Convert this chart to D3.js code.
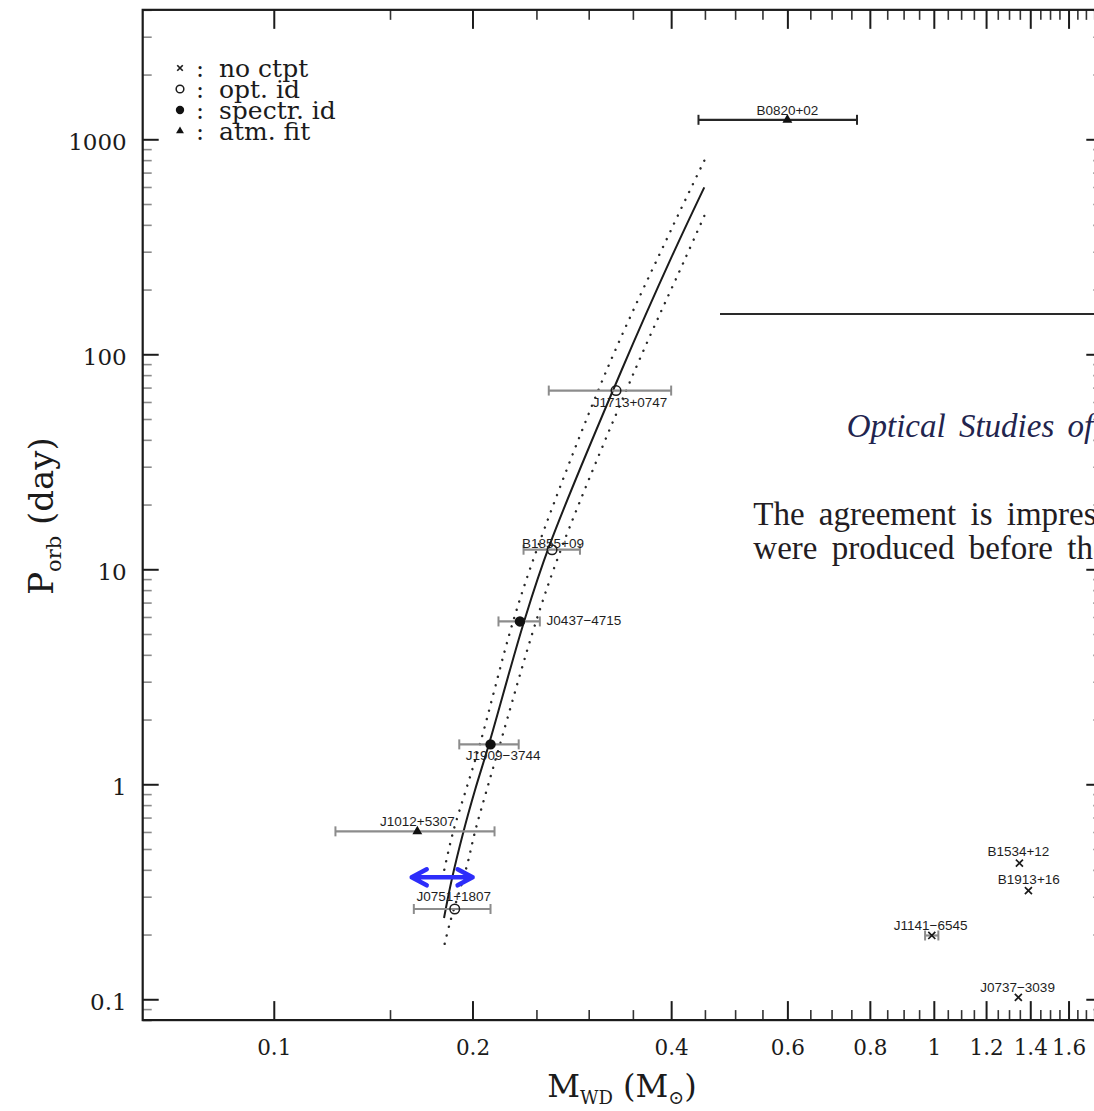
<!DOCTYPE html>
<html>
<head>
<meta charset="utf-8">
<script src="https://cdn.jsdelivr.net/npm/d3@7"></script>
<style>
  html, body { margin: 0; padding: 0; background: #ffffff; }
  svg { display: block; }
</style>
</head>
<body>
<svg id="chart" width="1094" height="1111"></svg>
<script>
// ---- Binary pulsars: white-dwarf (companion) mass vs orbital period ----
const pulsarNames     = ["B0820+02", "J1713+0747", "B1855+09", "J0437−4715", "J1909−3744",
                         "J1012+5307", "J0751+1807", "B1534+12", "B1913+16", "J1141−6545", "J0737−3039"];
const companionMass   = [0.60, 0.330, 0.264, 0.236, 0.213, 0.165, 0.188, 1.348, 1.391, 0.993, 1.343];
const massLow         = [0.44, 0.261, 0.239, 0.219, 0.191, 0.124, 0.163, null, null, 0.970, null];
const massHigh        = [0.765, 0.400, 0.291, 0.253, 0.235, 0.216, 0.213, null, null, 1.016, null];
const orbitalPeriod   = [1232, 67.8, 12.33, 5.72, 1.533, 0.604, 0.263, 0.43, 0.32, 0.198, 0.102];
// "none" = no counterpart, "opt" = optical id, "spec" = spectroscopic id, "atm" = atmosphere fit
const counterpartType = ["atm", "opt", "opt", "spec", "spec", "atm", "opt", "none", "none", "none", "none"];

// Core-mass / orbital-period relation (solid) and its spread (dotted)
const relationMass     = [0.449, 0.4008, 0.3366, 0.2612, 0.2394, 0.2119, 0.2018, 0.1938, 0.1860, 0.1811];
const relationPeriod   = [597.9, 284.4, 84.5, 12.74, 5.705, 1.539, 0.941, 0.602, 0.359, 0.2388];
const upperBandMass    = [0.449, 0.402, 0.3195, 0.2513, 0.2304, 0.2053, 0.1955, 0.1870, 0.1817, 0.1806];
const upperBandPeriod  = [795.3, 392.2, 84.5, 12.74, 5.705, 1.539, 0.941, 0.602, 0.4137, 0.3786];
const lowerBandMass    = [0.449, 0.4203, 0.3526, 0.2734, 0.2496, 0.2202, 0.2102, 0.2018, 0.1960, 0.1849, 0.1806];
const lowerBandPeriod  = [439.9, 279.6, 84.5, 12.74, 5.705, 1.539, 0.941, 0.602, 0.4137, 0.2272, 0.1696];

// Mass range marker (double arrow)
const arrowMass   = [0.1618, 0.2001];
const arrowPeriod = 0.369;

// Axis ticks and legend
const massTickLabels   = [0.1, 0.2, 0.4, 0.6, 0.8, 1, 1.2, 1.4, 1.6];
const periodTickLabels = [0.1, 1, 10, 100, 1000];
const legendTypes      = ["none", "opt", "spec", "atm"];
const legendLabels     = ["no ctpt", "opt. id", "spectr. id", "atm. fit"];

// Page text that runs alongside the figure
const pageHeading = "Optical Studies of";
const pageLines   = ["The agreement is impres", "were produced before the"];

// ---------------------------------------------------------------------
const svg = d3.select("#chart");
const X0 = 142.7, X1 = 1102.3, Y0 = 1020.1, Y1 = 9.85;
const x = d3.scaleLog().domain([0.0633, 1.8]).range([X0, X1]);
const y = d3.scaleLog().domain([0.08, 4000]).range([Y0, Y1]);

const INK = "#1b1b1b";
const SERIF = "'DejaVu Serif', serif";

// label placement around each marker: [dx, dy(baseline), anchor]
const labelPlacement = {
  "B0820+02":   [0, -5, "middle"],
  "J1713+0747": [14, 16.5, "middle"],
  "B1855+09":   [1, -2, "middle"],
  "J0437−4715": [26.7, 3.5, "start"],
  "J1909−3744": [12.6, 16, "middle"],
  "J1012+5307": [0, -5, "middle"],
  "J0751+1807": [-1, -7.5, "middle"],
  "B1534+12":   [-1, -6.7, "middle"],
  "B1913+16":   [0.4, -6.7, "middle"],
  "J1141−6545": [-1.2, -5, "middle"],
  "J0737−3039": [-0.8, -5.3, "middle"]
};
const darkBars = new Set(["B0820+02"]);

// ---- axes --------------------------------------------------------------
function tidy(g, width, color) {
  g.select(".domain").remove();
  g.selectAll(".tick line").attr("stroke", color).attr("stroke-width", width);
}
const massMinor = d3.range(3, 36).map(i => +(i * 0.05).toFixed(2))
  .filter(v => !massTickLabels.includes(v));
const periodMinor = y.ticks().filter(v => !periodTickLabels.some(p => Math.abs(p - v) < 1e-9));

// bottom
const gb = svg.append("g").attr("transform", `translate(0,${Y0})`)
  .call(d3.axisBottom(x).tickValues(massTickLabels).tickSize(-19).tickPadding(20).tickFormat(d => String(d)));
tidy(gb, 2, INK);
gb.attr("font-family", SERIF).attr("font-size", 21.5);
gb.selectAll("text").attr("fill", INK);
const gbm = svg.append("g").attr("transform", `translate(0,${Y0})`)
  .call(d3.axisBottom(x).tickValues(massMinor).tickSize(-10).tickFormat(""));
tidy(gbm, 1.6, "#333");

// top
const gt = svg.append("g").attr("transform", `translate(0,${Y1})`)
  .call(d3.axisTop(x).tickValues(massTickLabels).tickSize(-19).tickFormat(""));
tidy(gt, 2, INK);
const gtm = svg.append("g").attr("transform", `translate(0,${Y1})`)
  .call(d3.axisTop(x).tickValues(massMinor).tickSize(-10).tickFormat(""));
tidy(gtm, 1.6, "#333");

// left
const gl = svg.append("g").attr("transform", `translate(${X0},0)`)
  .call(d3.axisLeft(y).tickValues(periodTickLabels).tickSize(-16).tickPadding(16).tickFormat(d => String(d)));
tidy(gl, 2, INK);
gl.attr("font-family", SERIF).attr("font-size", 23);
gl.selectAll("text").attr("fill", INK).attr("dy", "0.46em");
const glm = svg.append("g").attr("transform", `translate(${X0},0)`)
  .call(d3.axisLeft(y).tickValues(periodMinor).tickSize(-9).tickFormat(""));
tidy(glm, 1.6, "#8a8a8a");

// right
const gr = svg.append("g").attr("transform", `translate(${X1},0)`)
  .call(d3.axisRight(y).tickValues(periodTickLabels).tickSize(-16).tickFormat(""));
tidy(gr, 2, INK);
const grm = svg.append("g").attr("transform", `translate(${X1},0)`)
  .call(d3.axisRight(y).tickValues(periodMinor).tickSize(-9).tickFormat(""));
tidy(grm, 1.6, "#8a8a8a");

// frame
svg.append("rect").attr("x", X0).attr("y", Y1).attr("width", X1 - X0).attr("height", Y0 - Y1)
  .attr("fill", "none").attr("stroke", INK).attr("stroke-width", 2.2);

// ---- axis titles -------------------------------------------------------
const xt = svg.append("text").attr("x", 622).attr("y", 1097).attr("text-anchor", "middle")
  .attr("font-family", SERIF).attr("font-size", 32).attr("fill", INK);
xt.append("tspan").text("M");
xt.append("tspan").attr("font-size", 18).attr("dy", 7).text("WD");
xt.append("tspan").attr("dy", -7).text(" (M");
xt.append("tspan").attr("font-size", 19).attr("dy", 7).text("⊙");
xt.append("tspan").attr("dy", -7).text(")");

const yt = svg.append("text").attr("transform", "translate(53,516) rotate(-90)").attr("text-anchor", "middle")
  .attr("font-family", SERIF).attr("font-size", 34).attr("fill", INK);
yt.append("tspan").text("P");
yt.append("tspan").attr("font-size", 21).attr("dy", 8).text("orb");
yt.append("tspan").attr("dy", -8).text(" (day)");

// ---- page text beside the figure --------------------------------------
svg.append("line").attr("x1", 720).attr("x2", 1094).attr("y1", 314).attr("y2", 314)
  .attr("stroke", "#2a2a2a").attr("stroke-width", 2);
svg.append("text").attr("x", 846.7).attr("y", 436.7)
  .attr("font-family", "'Liberation Serif', serif").attr("font-style", "italic")
  .attr("font-size", 33).attr("word-spacing", 5).attr("fill", "#22244e").text(pageHeading);
svg.selectAll("text.page").data(pageLines).join("text").attr("class", "page")
  .attr("x", 753.3).attr("y", (d, i) => 525 + i * 34.3)
  .attr("font-family", "'Liberation Serif', serif").attr("font-size", 33).attr("word-spacing", 6)
  .attr("fill", "#231c22").text(d => d);

// ---- relation curves ---------------------------------------------------
const curve = d3.line().x(d => x(d[0])).y(d => y(d[1])).curve(d3.curveCatmullRom.alpha(0.5));
const zip = (a, b) => a.map((v, i) => [v, b[i]]);
svg.append("path").attr("d", curve(zip(relationMass, relationPeriod)))
  .attr("fill", "none").attr("stroke", INK).attr("stroke-width", 2);
[[upperBandMass, upperBandPeriod], [lowerBandMass, lowerBandPeriod]].forEach(([m, p]) => {
  svg.append("path").attr("d", curve(zip(m, p)))
    .attr("fill", "none").attr("stroke", "#2a2a2a").attr("stroke-width", 2.4)
    .attr("stroke-linecap", "round").attr("stroke-dasharray", "0.1,8.6");
});

// ---- markers -----------------------------------------------------------
function drawMarker(g, type, cx, cy, scale) {
  const s = scale || 1;
  if (type === "opt") {
    g.append("circle").attr("cx", cx).attr("cy", cy).attr("r", 4.8 * s)
      .attr("fill", "none").attr("stroke", INK).attr("stroke-width", 1.5);
  } else if (type === "spec") {
    g.append("circle").attr("cx", cx).attr("cy", cy).attr("r", 5.2 * s).attr("fill", "#111");
  } else if (type === "atm") {
    g.append("path").attr("transform", `translate(${cx},${cy})`)
      .attr("d", d3.symbol(d3.symbolTriangle, 42 * s * s)()).attr("fill", "#111");
  } else {
    g.append("path").attr("transform", `translate(${cx},${cy})`)
      .attr("d", d3.symbol(d3.symbolX, 34 * s * s)()).attr("fill", "none")
      .attr("stroke", INK).attr("stroke-width", 1.7);
  }
}

const pts = pulsarNames.map((name, i) => ({
  name, m: companionMass[i], lo: massLow[i], hi: massHigh[i], p: orbitalPeriod[i], type: counterpartType[i]
}));

const gp = svg.append("g");
pts.forEach(d => {
  const cx = x(d.m), cy = y(d.p);
  const g = gp.append("g");
  if (d.lo != null) {
    const col = darkBars.has(d.name) ? "#262626" : "#8c8c8c";
    const xl = x(d.lo), xh = x(d.hi);
    g.append("line").attr("x1", xl).attr("x2", xh).attr("y1", cy).attr("y2", cy)
      .attr("stroke", col).attr("stroke-width", 2.2);
    [xl, xh].forEach(xx => g.append("line").attr("x1", xx).attr("x2", xx)
      .attr("y1", cy - 5).attr("y2", cy + 5).attr("stroke", col).attr("stroke-width", 2));
  }
  drawMarker(g, d.type, cx, cy, 1);
  const [dx, dy, anchor] = labelPlacement[d.name];
  g.append("text").attr("x", cx + dx).attr("y", cy + dy).attr("text-anchor", anchor)
    .attr("font-family", "'Liberation Sans', Arial, sans-serif").attr("font-size", 13.5)
    .attr("fill", "#1e1e1e").text(d.name);
});

// ---- double arrow ------------------------------------------------------
const ax0 = x(arrowMass[0]), ax1 = x(arrowMass[1]), ay = y(arrowPeriod);
svg.append("path")
  .attr("d", `M${ax0},${ay}L${ax1},${ay}` +
             `M${ax0 + 15},${ay - 8}L${ax0},${ay}L${ax0 + 15},${ay + 8}` +
             `M${ax1 - 15},${ay - 8}L${ax1},${ay}L${ax1 - 15},${ay + 8}`)
  .attr("fill", "none").attr("stroke", "#2d2dfa").attr("stroke-width", 4.5)
  .attr("stroke-linecap", "round").attr("stroke-linejoin", "round");

// ---- legend ------------------------------------------------------------
const lg = svg.append("g");
legendTypes.forEach((t, i) => {
  const base = 77 + i * 21;
  drawMarker(lg, t, 180, base - 9, 0.8);
  lg.append("text").attr("x", 200).attr("y", base).attr("text-anchor", "middle")
    .attr("font-family", SERIF).attr("font-size", 24).attr("fill", INK).text(":");
  lg.append("text").attr("x", 219).attr("y", base)
    .attr("font-family", SERIF).attr("font-size", 25).attr("fill", INK).text(legendLabels[i]);
});
</script>
</body>
</html>
